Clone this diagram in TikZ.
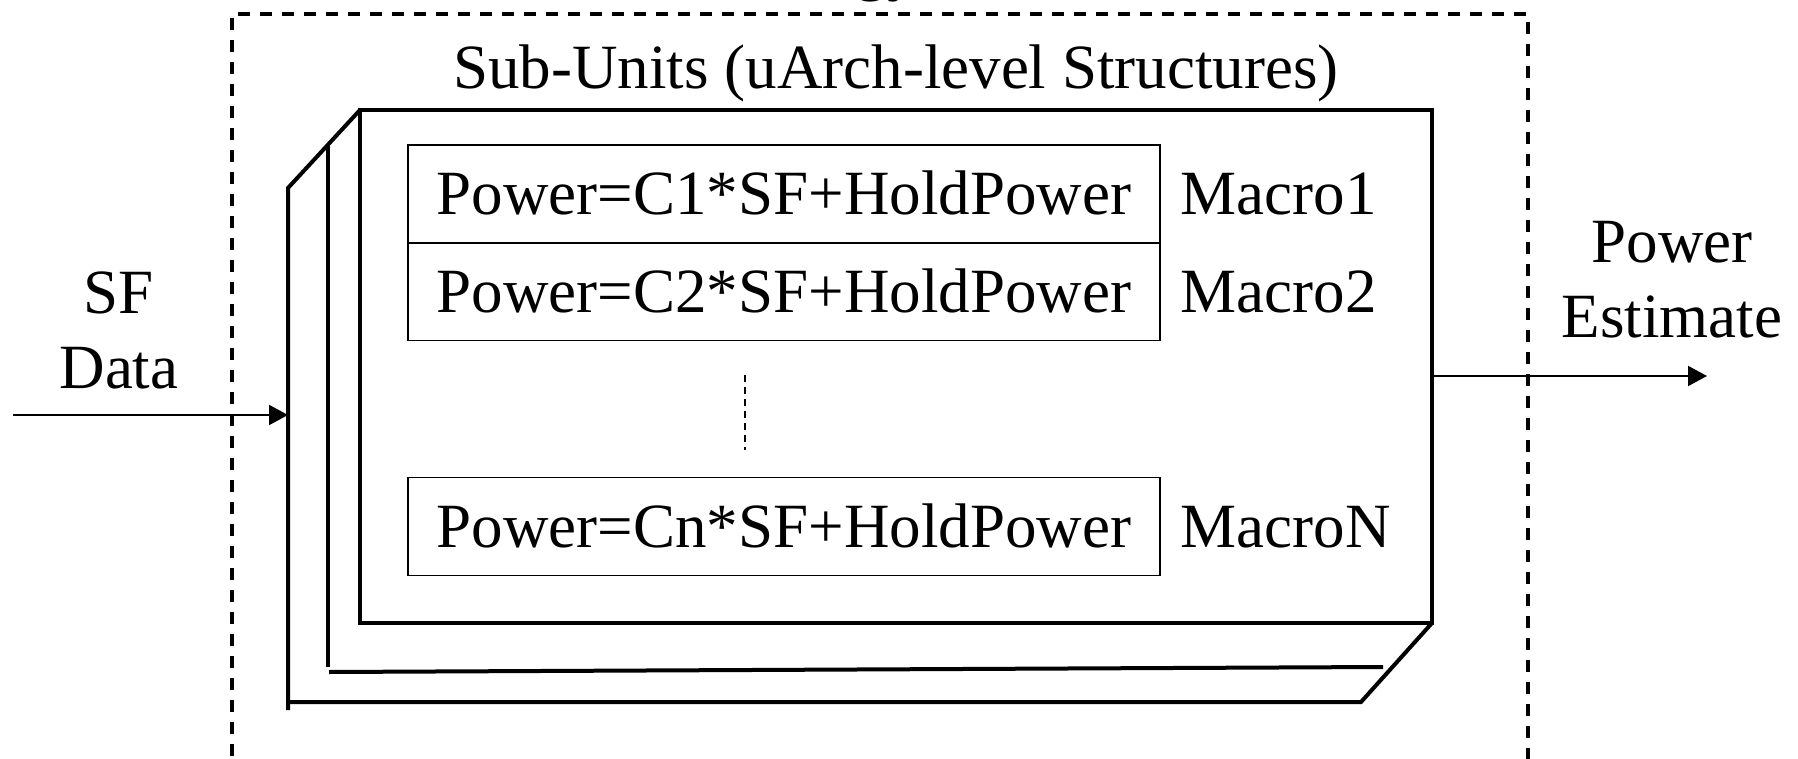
\documentclass[tikz,border=0pt]{standalone}
\usepackage{fontspec}
\setmainfont{Liberation Serif}
\usetikzlibrary{arrows.meta}
\begin{document}
\begin{tikzpicture}[x=1pt,y=-1pt,
  big/.style={font=\fontsize{63}{75}\selectfont},
  txt/.style={big, inner sep=0pt},
  frame/.style={line width=4pt, line join=miter},
  formula/.style={draw, line width=1.5pt, minimum width=752pt, minimum height=98pt,
                  inner sep=0pt, text height=42pt, text depth=0pt, big},
  tag/.style={anchor=west, inner sep=0pt, text height=42pt, text depth=0pt, big},
  flow/.style={line width=2pt, -{Triangle[length=19pt,width=20pt]}},
  outline/.style={line width=3.5pt, dash pattern=on 12pt off 10pt},
  gap/.style={line width=1.5pt, dash pattern=on 7pt off 5pt}]

\useasboundingbox (0,0) rectangle (1798,759);
\clip (0,0) rectangle (1798,759);

% heading of the enclosing block, mostly above the visible area
\node[txt, anchor=base east] (heading) at (919,-11) {Methodology};

% enclosing dashed block
\draw[outline] (232,800) -- (232,14) -- (1528,14) -- (1528,800);

\node[txt, anchor=base] (subunits) at (896,89) {Sub-Units (uArch-level Structures)};

% stacked sub-unit sheets
\draw[frame] (288,710) -- (288,188) -- (360,110);
\draw[frame] (286,702) -- (1361,702) -- (1432,623);
\draw[frame] (328,145) -- (328,667);
\draw[frame] (329,672) -- (1383,667);
\draw[frame] (360,110) rectangle (1432,623);

\coordinate (inTip) at (288,415);
\coordinate (inStart) at (13,415);
\coordinate (outStart) at (1432,376);
\coordinate (outEnd) at (1707,376);

% macro power equations
\node[formula] (m1) at (784,194) {Power=C1*SF+HoldPower};
\node[formula] (m2) at (784,291.5) {Power=C2*SF+HoldPower};
\node[formula] (mn) at (784,526.5) {Power=Cn*SF+HoldPower};

\node[tag] (l1) at ([xshift=20pt]m1.east) {Macro1};
\node[tag] (l2) at ([xshift=20pt]m2.east) {Macro2};
\node[tag] (ln) at ([xshift=20pt]mn.east) {MacroN};

\coordinate (gapTop) at (745,375);
\coordinate (gapBot) at (745,450);
\draw[gap] (gapTop) -- (gapBot);

% input and output
\node[txt, anchor=base] (sf) at (119,313) {SF};
\node[txt, anchor=base] (data) at (119,388) {Data};
\draw[flow] (inStart) -- (inTip);

\node[txt, anchor=base] (pw) at (1672,262) {Power};
\node[txt, anchor=base] (est) at (1672,337) {Estimate};
\draw[flow] (outStart) -- (outEnd);
\end{tikzpicture}
\end{document}
